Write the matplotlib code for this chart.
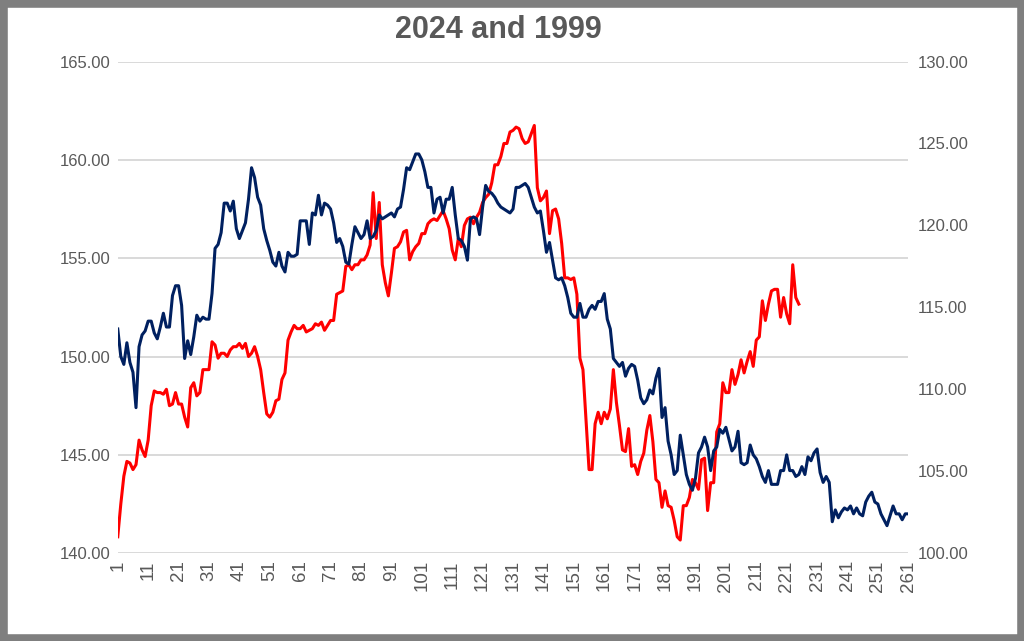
import matplotlib.pyplot as plt
import numpy as np
from matplotlib.patches import Rectangle

# 1999 series (left axis), one value per trading day
navy_1999 = [
    151.4, 150.0, 149.6, 150.7, 149.7, 149.2, 147.4, 150.5, 151.1, 151.3,
    151.8, 151.8, 151.2, 150.9, 151.5, 152.2, 151.5, 151.5, 153.1, 153.6,
    153.6, 152.6, 149.9, 150.8, 150.1, 151.0, 152.1, 151.8, 152.0, 151.9,
    151.9, 153.2, 155.5, 155.7, 156.3, 157.8, 157.8, 157.4, 157.9, 156.5,
    156.0, 156.4, 156.8, 158.0, 159.6, 159.1, 158.1, 157.7, 156.5, 155.9,
    155.4, 154.8, 154.6, 155.3, 154.6, 154.3, 155.3, 155.1, 155.1, 155.2,
    156.9, 156.9, 156.9, 155.7, 157.3, 157.2, 158.2, 157.2, 157.8, 157.7,
    157.5, 156.8, 155.8, 156.0, 155.6, 154.8, 154.7, 155.7, 156.6, 156.3,
    156.0, 156.2, 156.9, 156.0, 156.1, 156.4, 157.2, 157.0, 157.1, 157.2,
    157.3, 157.1, 157.5, 157.6, 158.5, 159.6, 159.5, 159.9, 160.3, 160.3,
    160.0, 159.4, 158.6, 158.6, 157.3, 158.0, 158.1, 157.3, 158.0, 158.0,
    158.6, 157.2, 156.0, 155.9, 155.6, 154.9, 157.0, 157.1, 157.0, 156.2,
    157.6, 158.7, 158.4, 158.3, 158.1, 157.8, 157.6, 157.5, 157.4, 157.3,
    157.5, 158.6, 158.6, 158.7, 158.8, 158.6, 158.1, 157.6, 157.3, 157.4,
    156.4, 155.3, 155.8, 154.9, 154.0, 153.9, 154.0, 153.6, 153.0, 152.2,
    152.0, 152.0, 152.7, 152.0, 152.0, 152.4, 152.6, 152.4, 152.8, 152.8,
    153.2, 151.9, 151.4, 149.9, 149.7, 149.5, 149.7, 149.0, 149.4, 149.6,
    149.5, 148.8, 147.9, 147.6, 147.8, 148.3, 148.1, 148.9, 149.4, 146.9,
    147.4, 145.7, 145.0, 144.0, 144.2, 146.0, 145.0, 144.0, 143.5, 143.2,
    143.8, 145.1, 145.4, 145.9, 145.4, 144.2, 145.2, 145.4, 146.3, 146.1,
    146.4, 145.8, 145.2, 145.4, 146.2, 144.6, 144.5, 144.6, 145.5, 145.0,
    144.8, 144.4, 143.9, 143.6, 144.2, 143.5, 143.5, 143.5, 144.2, 144.2,
    145.0, 144.2, 144.2, 143.9, 144.0, 144.4, 144.0, 144.9, 144.7, 145.1,
    145.3, 144.1, 143.6, 143.9, 143.6, 141.6, 142.2, 141.8, 142.1, 142.3,
    142.2, 142.4, 142.0, 142.3, 142.0, 141.9, 142.6, 142.9, 143.1, 142.6,
    142.5, 142.0, 141.7, 141.4, 141.9, 142.4, 142.0, 142.0, 141.7, 142.0,
    142.0,
]

# 2024 series (right axis), year to date
red_2024 = [
    101.0, 103.0, 104.7, 105.6, 105.5, 105.1, 105.4, 106.9, 106.3, 105.9,
    106.9, 109.0, 109.9, 109.8, 109.8, 109.7, 110.0, 109.0, 109.1, 109.8,
    109.1, 109.1, 108.3, 107.7, 110.1, 110.4, 109.6, 109.8, 111.2, 111.2,
    111.2, 112.9, 112.7, 111.9, 112.2, 112.2, 112.0, 112.4, 112.6, 112.6,
    112.8, 112.5, 112.8, 112.0, 112.2, 112.6, 112.0, 111.2, 109.8, 108.5,
    108.3, 108.6, 109.3, 109.4, 110.6, 111.0, 113.0, 113.5, 113.9, 113.7,
    113.7, 113.9, 113.5, 113.6, 113.7, 114.0, 113.9, 114.1, 113.6, 113.9,
    114.2, 114.2, 115.8, 115.9, 116.0, 117.5, 117.6, 117.3, 117.6, 117.6,
    117.9, 117.9, 118.2, 118.8, 122.0, 119.2, 121.4, 117.6, 116.5, 115.7,
    117.1, 118.6, 118.7, 119.0, 119.6, 119.7, 117.9, 118.4, 118.7, 118.9,
    119.5, 119.5, 120.1, 120.3, 120.4, 120.3, 120.6, 120.9, 120.4, 119.8,
    118.5, 117.9, 119.2, 118.7, 120.0, 120.4, 120.5, 120.1, 120.5, 120.8,
    121.4, 121.7, 121.9, 122.6, 123.7, 123.7, 124.2, 125.0, 125.0, 125.7,
    125.8, 126.0, 125.9, 125.3, 125.0, 125.1, 125.6, 126.1, 122.3, 121.5,
    121.7, 122.1, 119.5, 120.9, 121.0, 120.4, 118.9, 116.8, 116.8, 116.7,
    116.8, 115.8, 111.9, 111.2, 108.1, 105.1, 105.1, 107.9, 108.6, 107.9,
    108.6, 108.2, 108.8, 111.2, 109.2, 107.8, 106.3, 106.2, 107.6, 105.3,
    105.4, 104.8, 105.6, 106.1, 107.5, 108.4, 106.8, 104.5, 104.3, 102.8,
    103.8, 102.9, 102.8, 102.0, 101.0, 100.8, 102.9, 102.9, 103.4, 104.5,
    104.3, 103.9, 105.7, 105.8, 102.6, 104.3, 104.3, 107.4, 107.9, 110.4,
    109.8, 109.8, 111.2, 110.3, 110.9, 111.8, 111.0, 111.7, 112.3, 111.4,
    113.0, 113.2, 115.4, 114.2, 115.2, 116.0, 116.1, 116.1, 114.4, 115.6,
    114.6, 114.0, 117.6, 115.6, 115.2,
]

days_1999 = np.arange(1, len(navy_1999) + 1)
days_2024 = np.arange(1, len(red_2024) + 1)
x_ticks = list(range(1, 262, 10))
left_ticks = [140, 145, 150, 155, 160, 165]
right_ticks = [100, 105, 110, 115, 120, 125, 130]

plt.rcParams['font.family'] = ['Liberation Sans', 'DejaVu Sans']
txt = '#595959'

fig = plt.figure(figsize=(10.24, 6.41), dpi=100)
ax = fig.add_axes([0.115, 0.137, 0.772, 0.767])
ax2 = ax.twinx()

ax.set_xlim(1, 261)
ax.set_ylim(140, 165)
ax2.set_ylim(100, 130)

ax.set_yticks(left_ticks)
ax.set_yticklabels([f'{v:.2f}' for v in left_ticks])
ax2.set_yticks(right_ticks)
ax2.set_yticklabels([f'{v:.2f}' for v in right_ticks])
ax.set_xticks(x_ticks)
ax.set_xticklabels([str(t) for t in x_ticks], rotation=90)

ax.grid(axis='y', color='#d9d9d9', linewidth=1.4)
ax.set_axisbelow(True)
for a in (ax, ax2):
    for s in a.spines.values():
        s.set_visible(False)
ax.tick_params(axis='y', length=0, pad=5, labelsize=12, labelcolor=txt)
ax2.tick_params(axis='y', length=0, pad=7, labelsize=12, labelcolor=txt)
ax.tick_params(axis='x', length=0, pad=5, labelsize=13.5, labelcolor=txt)

# red on the secondary axis, navy drawn over it using the left scale
ax2.plot(days_2024, red_2024, color='#ff0000', linewidth=2.2)
ax2.plot(days_1999, navy_1999, color='#002060', linewidth=2.2,
         transform=ax.transData)
ax2.set_ylim(100, 130)

fig.text(0.487, 1 - 30 / 641, '2024 and 1999', ha='center', va='center',
         fontsize=22, fontweight='bold', color=txt)

fig.patches.append(Rectangle((0, 0), 1, 1, transform=fig.transFigure,
                             fill=False, edgecolor='#7f7f7f', linewidth=10.5))

fig.savefig('out.png', dpi=100)
